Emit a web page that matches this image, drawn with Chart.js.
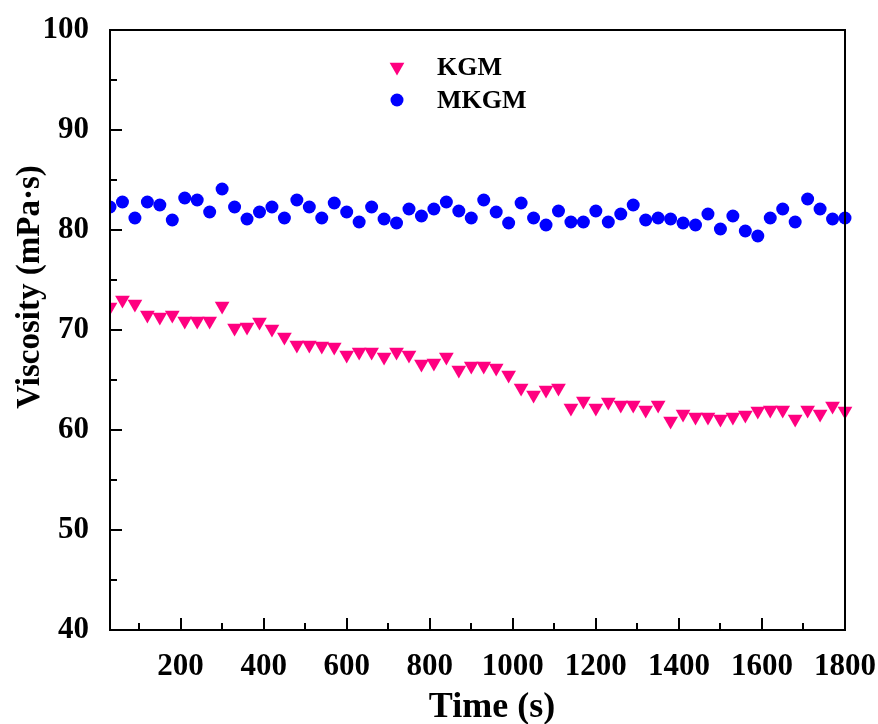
<!DOCTYPE html>
<html>
<head>
<meta charset="utf-8">
<script src="https://cdn.jsdelivr.net/npm/chart.js@4"></script>
<style>
  html, body { margin: 0; padding: 0; background: #fff; }
  canvas { display: block; }
</style>
</head>
<body>
<canvas id="chart" width="878" height="724"></canvas>
<script>
// time in seconds
const timeS = [30, 60, 90, 120, 150, 180, 210, 240, 270, 300,
  330, 360, 390, 420, 450, 480, 510, 540, 570, 600,
  630, 660, 690, 720, 750, 780, 810, 840, 870, 900,
  930, 960, 990, 1020, 1050, 1080, 1110, 1140, 1170, 1200,
  1230, 1260, 1290, 1320, 1350, 1380, 1410, 1440, 1470, 1500,
  1530, 1560, 1590, 1620, 1650, 1680, 1710, 1740, 1770, 1800]

const kgm = [72.3, 73.0, 72.6, 71.5, 71.3, 71.5, 70.9, 70.9, 70.9, 72.4,
  70.2, 70.3, 70.8, 70.1, 69.3, 68.5, 68.5, 68.4, 68.3, 67.5,
  67.8, 67.8, 67.3, 67.8, 67.5, 66.6, 66.7, 67.3, 66.0, 66.4,
  66.4, 66.2, 65.5, 64.2, 63.5, 64.0, 64.2, 62.2, 62.9, 62.2,
  62.8, 62.5, 62.5, 62.0, 62.5, 60.9, 61.6, 61.3, 61.3, 61.1,
  61.3, 61.5, 61.9, 62.0, 62.0, 61.1, 62.0, 61.6, 62.4, 61.9]

const mkgm = [82.3, 82.8, 81.2, 82.8, 82.5, 81.0, 83.2, 83.0, 81.8, 84.1,
  82.3, 81.1, 81.8, 82.3, 81.2, 83.0, 82.3, 81.2, 82.7, 81.8,
  80.8, 82.3, 81.1, 80.7, 82.1, 81.4, 82.1, 82.8, 81.9, 81.2,
  83.0, 81.8, 80.7, 82.7, 81.2, 80.5, 81.9, 80.8, 80.8, 81.9,
  80.8, 81.6, 82.5, 81.0, 81.2, 81.1, 80.7, 80.5, 81.6, 80.1,
  81.4, 79.9, 79.4, 81.2, 82.1, 80.8, 83.1, 82.1, 81.1, 81.2]

const xTicks = [200, 400, 600, 800, 1000, 1200, 1400, 1600, 1800]
const xMinor = [100, 300, 500, 700, 900, 1100, 1300, 1500, 1700]
const yTicks = [40, 50, 60, 70, 80, 90, 100]
const yMinor = [45, 55, 65, 75, 85, 95]

const serif = '"Liberation Serif", "Times New Roman", serif'

function toPoints(xs, ys) {
  return xs.map((x, i) => ({ x: x, y: ys[i] }))
}

// frame, inward ticks, axis titles and legend
const framePlugin = {
  id: 'frame',
  afterDraw(chart) {
    const ctx = chart.ctx
    const a = chart.chartArea
    const xs = chart.scales.x
    const ys = chart.scales.y
    ctx.save()
    ctx.strokeStyle = '#000'
    ctx.lineWidth = 2
    ctx.strokeRect(a.left, a.top, a.right - a.left, a.bottom - a.top)

    ctx.beginPath()
    xTicks.forEach(v => {
      const px = Math.round(xs.getPixelForValue(v))
      ctx.moveTo(px, a.bottom); ctx.lineTo(px, a.bottom - 12)
    })
    xMinor.forEach(v => {
      const px = Math.round(xs.getPixelForValue(v))
      ctx.moveTo(px, a.bottom); ctx.lineTo(px, a.bottom - 7)
    })
    yTicks.forEach(v => {
      const py = Math.round(ys.getPixelForValue(v))
      ctx.moveTo(a.left, py); ctx.lineTo(a.left + 12, py)
    })
    yMinor.forEach(v => {
      const py = Math.round(ys.getPixelForValue(v))
      ctx.moveTo(a.left, py); ctx.lineTo(a.left + 7, py)
    })
    ctx.stroke()

    // axis titles
    ctx.fillStyle = '#000'
    ctx.textAlign = 'center'
    ctx.textBaseline = 'alphabetic'
    ctx.font = 'bold 36px ' + serif
    ctx.fillText('Time (s)', 492, 717)

    ctx.save()
    ctx.translate(39, 287)
    ctx.rotate(-Math.PI / 2)
    ctx.font = 'bold 33px ' + serif
    ctx.fillText('Viscosity (mPa·s)', 0, 0)
    ctx.restore()

    // legend
    const rows = [{ y: 67, ds: chart.data.datasets[0] }, { y: 100, ds: chart.data.datasets[1] }]
    ctx.font = 'bold 26px ' + serif
    ctx.textAlign = 'left'
    rows.forEach(r => {
      ctx.fillStyle = r.ds.backgroundColor
      ctx.strokeStyle = r.ds.backgroundColor
      Chart.helpers.drawPoint(ctx, {
        pointStyle: r.ds.pointStyle,
        rotation: r.ds.rotation || 0,
        radius: r.ds.pointRadius,
        borderWidth: 0
      }, 397, r.y)
      ctx.fillStyle = '#000'
      ctx.fillText(r.ds.label, 437, r.y + 8)
    })
    ctx.restore()
  }
}

new Chart(document.getElementById('chart').getContext('2d'), {
  type: 'scatter',
  data: {
    datasets: [
      {
        label: 'KGM',
        data: toPoints(timeS, kgm),
        pointStyle: 'triangle',
        rotation: 180,
        pointRadius: 8.5,
        backgroundColor: '#FF0080',
        borderColor: '#FF0080',
        borderWidth: 0,
        clip: { left: 0, right: 10, top: 10, bottom: 10 }
      },
      {
        label: 'MKGM',
        data: toPoints(timeS, mkgm),
        pointStyle: 'circle',
        pointRadius: 6.5,
        backgroundColor: '#0000FF',
        borderColor: '#0000FF',
        borderWidth: 0,
        clip: { left: 0, right: 10, top: 10, bottom: 10 }
      }
    ]
  },
  options: {
    responsive: false,
    animation: false,
    layout: { padding: { top: 30, right: 33, left: 0, bottom: 0 } },
    plugins: {
      legend: { display: false },
      tooltip: { enabled: false }
    },
    scales: {
      x: {
        type: 'linear',
        min: 30,
        max: 1800,
        afterBuildTicks: s => { s.ticks = xTicks.map(v => ({ value: v })) },
        afterFit: s => { s.height = 94; s.paddingLeft = 0; s.paddingRight = 0 },
        grid: { display: false },
        border: { display: false },
        ticks: {
          color: '#000',
          font: { family: serif, size: 31, weight: 'bold' },
          padding: 10,
          maxRotation: 0,
          autoSkip: false,
          callback: v => String(v)
        }
      },
      y: {
        min: 40,
        max: 100,
        afterBuildTicks: s => { s.ticks = yTicks.map(v => ({ value: v })) },
        afterFit: s => { s.width = 110; s.paddingTop = 0; s.paddingBottom = 0 },
        grid: { display: false },
        border: { display: false },
        ticks: {
          color: '#000',
          font: { family: serif, size: 31, weight: 'bold' },
          padding: 13,
          callback: v => String(v)
        }
      }
    }
  },
  plugins: [framePlugin]
})
</script>
</body>
</html>
